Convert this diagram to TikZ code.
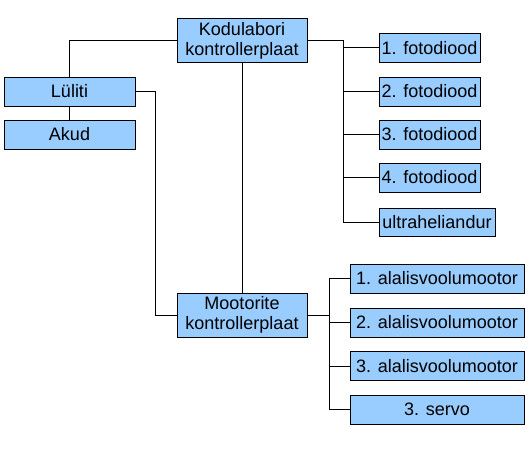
\documentclass[tikz,border=0pt]{standalone}
\usepackage{fontspec}
\setmainfont{Liberation Sans}
\definecolor{boxblue}{HTML}{99CCFF}
\begin{document}
\begin{tikzpicture}[x=1pt,y=-1pt,
  box/.style={draw=black, fill=boxblue, line width=1pt, inner sep=0pt, align=center,
    font=\fontsize{18}{20}\selectfont},
  conn/.style={draw=black, line width=1pt}]
\useasboundingbox (0,0) rectangle (532,452);
\fill[white] (0,0) rectangle (532,452);
% nodes
\node[box, minimum width=130pt, minimum height=43pt] (kod) at (242,40.5) {Kodulabori\\kontrollerplaat};
\node[box, minimum width=131pt, minimum height=29pt] (lul) at (69.5,91.5) {Lüliti};
\node[box, minimum width=131pt, minimum height=29pt] (akud) at (69.5,134.5) {Akud};
\node[box, minimum width=130pt, minimum height=44pt] (moot) at (242,315) {Mootorite\\kontrollerplaat};
\node[box, minimum width=101pt, minimum height=28pt] (f1) at (429.5,48) {1. fotodiood};
\node[box, minimum width=101pt, minimum height=29pt] (f2) at (429.5,91.5) {2. fotodiood};
\node[box, minimum width=101pt, minimum height=29pt] (f3) at (429.5,134.5) {3. fotodiood};
\node[box, minimum width=101pt, minimum height=29pt] (f4) at (429.5,177.5) {4. fotodiood};
\node[box, minimum width=116pt, minimum height=28pt] (ul) at (437,222) {ultraheliandur};
\node[box, minimum width=174pt, minimum height=29pt] (m1) at (437,278.5) {1. alalisvoolumootor};
\node[box, minimum width=174pt, minimum height=29pt] (m2) at (437,322.5) {2. alalisvoolumootor};
\node[box, minimum width=174pt, minimum height=29pt] (m3) at (437,366) {3. alalisvoolumootor};
\node[box, minimum width=174pt, minimum height=29pt] (m4) at (437,409.5) {3. servo};
% connectors
\draw[conn] (kod.west) -| (lul.north);
\draw[conn] (lul.south) -- (akud.north);
\draw[conn] (lul.east) -- ++(20,0) |- (moot.west);
\draw[conn] (kod.south) -- (moot.north);
\draw[conn] (kod.east) -- ++(36,0) coordinate (b1) |- (ul.west);
\draw[conn] (f1.west) -- (f1.west -| b1);
\draw[conn] (f2.west) -- (f2.west -| b1);
\draw[conn] (f3.west) -- (f3.west -| b1);
\draw[conn] (f4.west) -- (f4.west -| b1);
\draw[conn] (moot.east) -- ++(22,0) coordinate (b2);
\draw[conn] (m1.west) -- (m1.west -| b2) |- (m4.west);
\draw[conn] (m2.west) -- (m2.west -| b2);
\draw[conn] (m3.west) -- (m3.west -| b2);
\end{tikzpicture}
\end{document}
